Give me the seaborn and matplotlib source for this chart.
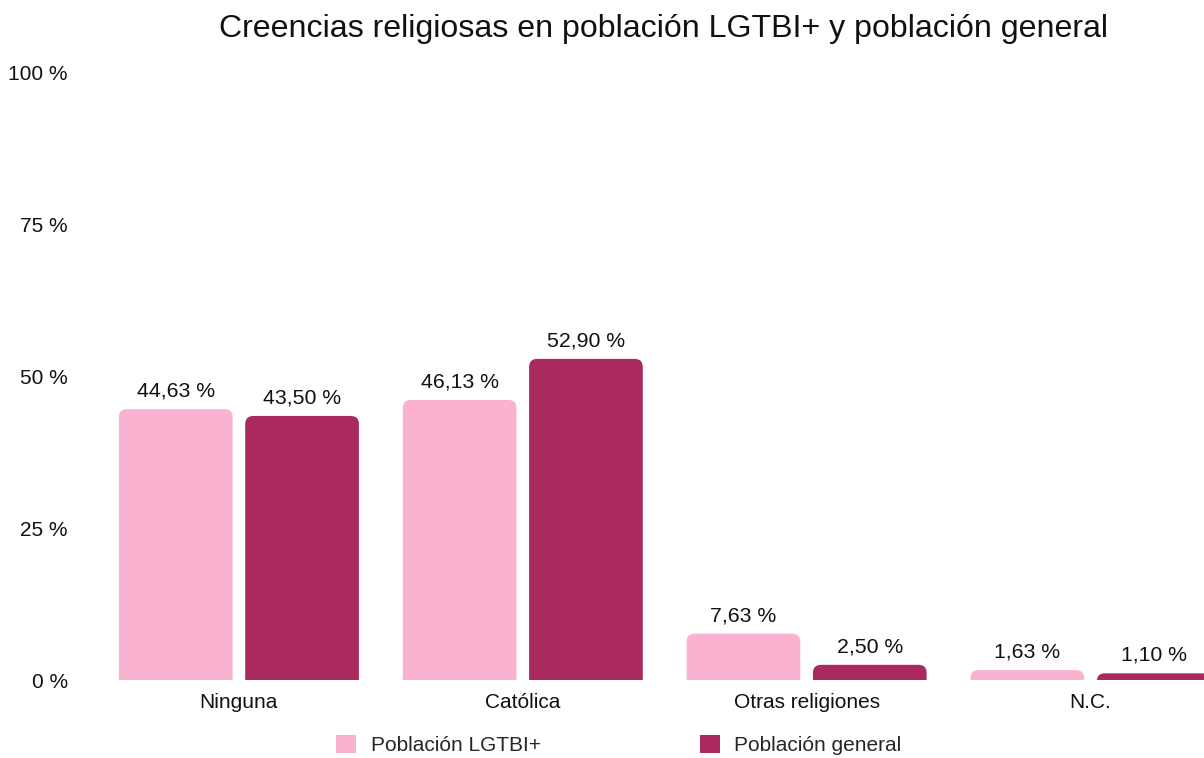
import matplotlib
matplotlib.use("Agg")
import matplotlib.pyplot as plt
import seaborn as sns
import pandas as pd
from matplotlib.patches import FancyBboxPatch, Patch

categories = ["Ninguna", "Católica", "Otras religiones", "N.C."]
series_names = ["Población LGTBI+", "Población general"]
lgtbi = [44.63, 46.13, 7.63, 1.63]
general = [43.50, 52.90, 2.50, 1.10]
y_ticks = [0, 25, 50, 75, 100]
y_tick_labels = ["0 %", "25 %", "50 %", "75 %", "100 %"]
title = "Creencias religiosas en población LGTBI+ y población general"
colors = ["#F9B3D1", "#AA2A5F"]

df = pd.DataFrame({
    "cat": categories * 2,
    "serie": [series_names[0]] * 4 + [series_names[1]] * 4,
    "val": lgtbi + general,
})

sns.set_theme(style="white")
plt.rcParams["font.family"] = ["Liberation Sans", "DejaVu Sans"]

fig = plt.figure(figsize=(12.04, 7.58), dpi=100)
ax = fig.add_axes([97 / 1204, 1 - 680 / 758, 1 - 97 / 1204, (680 - 73) / 758])

sns.barplot(data=df, x="cat", y="val", hue="serie", order=categories,
            hue_order=series_names, palette=colors, width=0.89, gap=0.1,
            errorbar=None, legend=False, ax=ax, saturation=1)

ax.set_xlim(-0.5, 3.40)
ax.set_ylim(0, 100)

# value labels
for cont, vals in zip(ax.containers, [lgtbi, general]):
    ax.bar_label(cont, labels=[f"{v:.2f}".replace(".", ",") + " %" for v in vals],
                 padding=6, fontsize=15.3, color="#111111")

# rounded top corners
rx = 0.028
for p in list(ax.patches):
    x, w, h = p.get_x(), p.get_width(), p.get_height()
    fc = p.get_facecolor()
    p.set_visible(False)
    ry = rx * 47
    fb = FancyBboxPatch((x, -ry), w, h + ry,
                        boxstyle=f"round,pad=0,rounding_size={rx}",
                        mutation_aspect=47, facecolor=fc, edgecolor="none",
                        clip_on=True)
    ax.add_patch(fb)

ax.set_yticks(y_ticks)
ax.set_yticklabels(y_tick_labels, fontsize=15, color="#111111")
ax.set_xticks(range(len(categories)))
ax.set_xticklabels(categories, fontsize=15, color="#111111")
ax.tick_params(axis="y", length=0, pad=21)
ax.tick_params(axis="x", length=0, pad=9)
ax.set_xlabel("")
ax.set_ylabel("")
for s in ax.spines.values():
    s.set_visible(False)

fig.text(664 / 1204, 1 - 29 / 758, title, ha="center", va="center",
         fontsize=23.1, color="#111111")

handles = [Patch(facecolor=c, edgecolor="none", label=n) for c, n in zip(colors, series_names)]
fig.legend(handles=handles, loc="center", bbox_to_anchor=(619 / 1204, 1 - 745 / 758),
           ncol=2, frameon=False, fontsize=15, handlelength=0.95, handleheight=0.95,
           handletextpad=0.7, columnspacing=7.65, borderaxespad=0, borderpad=0)

fig.savefig("out.png", dpi=100)
